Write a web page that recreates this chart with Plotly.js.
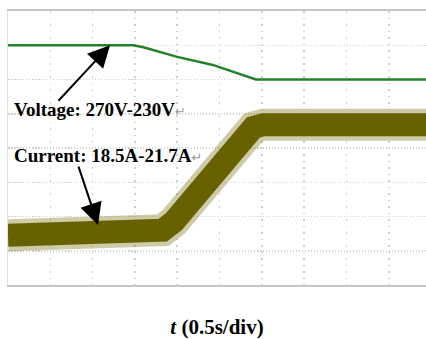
<!DOCTYPE html>
<html>
<head>
<meta charset="utf-8">
<script src="https://cdn.plot.ly/plotly-3.0.1.min.js"></script>
<style>html,body{margin:0;padding:0;background:#fff;}#chart{width:426px;height:339px;}</style>
</head>
<body>
<div id="chart"></div>
<script>
// Time in seconds (0.5 s/div)
const voltageTime = [0, 1.48, 1.6, 2.0, 2.42, 2.93, 4.94];
const voltageValues = [270, 270, 267.6, 256.4, 247, 230, 230];
const currentTime = [0, 1.70, 1.83, 1.96, 2.78, 2.9, 3.02, 4.94];
const currentValues = [18.45, 18.45, 18.6, 18.85, 21.38, 21.6, 21.68, 21.68];
const voltageLabel = 'Voltage: 270V-230V';
const currentLabel = 'Current: 18.5A-21.7A';
const xTitle = '<i>t</i> (0.5s/div)';

const traces = [
  {x: currentTime, y: currentValues, yaxis: 'y2', mode: 'lines', line: {color: 'rgba(125,118,30,0.38)', width: 32}, hoverinfo: 'skip', showlegend: false},
  {x: currentTime, y: currentValues, yaxis: 'y2', mode: 'lines', line: {color: '#676100', width: 23}, name: 'Current', showlegend: false},
  {x: voltageTime, y: voltageValues, mode: 'lines', line: {color: '#24802b', width: 2.5}, name: 'Voltage', showlegend: false}
];

const serif = 'Liberation Serif, Times New Roman, serif';
const layout = {
  width: 426, height: 339,
  margin: {l: 8, r: 0, t: 11, b: 54},
  paper_bgcolor: '#ffffff', plot_bgcolor: '#ffffff',
  xaxis: {
    range: [0, 4.94], dtick: 0.5, tick0: 0,
    showticklabels: false, ticks: '', zeroline: false,
    showgrid: true, gridcolor: '#cfcfcf', gridwidth: 1.5, griddash: '1.5px,5px',
    showline: true, mirror: true, linecolor: '#c6c6c6', linewidth: 2,
    title: {text: '<b>' + xTitle + '</b>', font: {family: serif, size: 21, color: '#000'}, standoff: 33},
    automargin: false
  },
  yaxis: {
    range: [-10, 310], dtick: 40, tick0: -10,
    showticklabels: false, ticks: '', zeroline: false,
    showgrid: true, gridcolor: '#d2d2d2', gridwidth: 1.5, griddash: '1.5px,1.5px',
    showline: true, linecolor: '#e2e2e2', linewidth: 1.5
  },
  yaxis2: {
    range: [17, 25], overlaying: 'y', side: 'left',
    showticklabels: false, ticks: '', zeroline: false, showgrid: false, showline: false
  },
  annotations: [
    {xref: 'paper', yref: 'paper', x: 4/418, y: (285-110)/274, xanchor: 'left', yanchor: 'middle',
     text: '<b>' + voltageLabel + '</b><span style="color:#9a9a9a;font-size:13px;font-family:DejaVu Sans">↵</span>', showarrow: false,
     font: {family: serif, size: 19, color: '#000'}},
    {xref: 'paper', yref: 'paper', x: 4/418, y: (285-155)/274, xanchor: 'left', yanchor: 'middle',
     text: '<b>' + currentLabel + '</b><span style="color:#9a9a9a;font-size:13px;font-family:DejaVu Sans">↵</span>', showarrow: false,
     font: {family: serif, size: 19, color: '#000'}},
    {xref: 'x', yref: 'y', x: 1.206, y: 270, text: '', showarrow: true,
     ax: -53, ay: 57, arrowhead: 2, arrowsize: 2.2, arrowwidth: 2, arrowcolor: '#000'},
    {xref: 'x', yref: 'y2', x: 1.064, y: 18.75, text: '', showarrow: true,
     ax: -20, ay: -60, arrowhead: 2, arrowsize: 2.2, arrowwidth: 2, arrowcolor: '#000'}
  ]
};

Plotly.newPlot('chart', traces, layout, {staticPlot: true, displayModeBar: false});
</script>
</body>
</html>
